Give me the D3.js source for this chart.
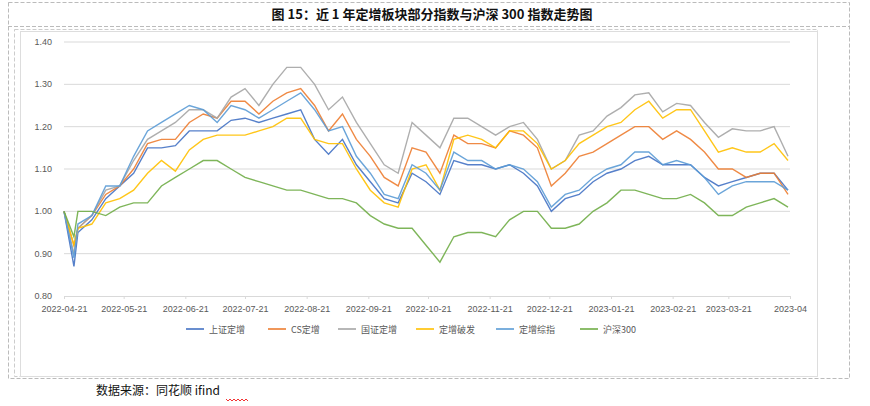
<!DOCTYPE html>
<html><head><meta charset="utf-8">
<script src="https://cdn.jsdelivr.net/npm/d3@7"></script>
<style>body{margin:0;background:#fff;font-family:"Noto Sans CJK SC","Noto Sans",sans-serif;}</style>
</head><body><svg id="c" width="870" height="406"></svg>
<script>
const dates = ["2022-04-21","2022-04-26","2022-04-28","2022-05-05","2022-05-12","2022-05-19","2022-05-26","2022-06-02","2022-06-09","2022-06-16","2022-06-23","2022-06-30","2022-07-07","2022-07-14","2022-07-21","2022-07-28","2022-08-04","2022-08-11","2022-08-18","2022-08-25","2022-09-01","2022-09-08","2022-09-15","2022-09-22","2022-09-29","2022-10-06","2022-10-13","2022-10-20","2022-10-27","2022-11-03","2022-11-10","2022-11-17","2022-11-24","2022-12-01","2022-12-08","2022-12-15","2022-12-22","2022-12-29","2023-01-05","2023-01-12","2023-01-19","2023-01-26","2023-02-02","2023-02-09","2023-02-16","2023-02-23","2023-03-02","2023-03-09","2023-03-16","2023-03-23","2023-03-30","2023-04-06","2023-04-13","2023-04-20"];
const shangzheng = [1.00,0.87,0.95,0.98,1.03,1.06,1.09,1.15,1.15,1.155,1.19,1.19,1.19,1.215,1.22,1.21,1.22,1.23,1.24,1.17,1.135,1.17,1.11,1.07,1.03,1.02,1.09,1.07,1.04,1.12,1.11,1.11,1.10,1.11,1.09,1.06,1.00,1.03,1.04,1.07,1.09,1.10,1.12,1.13,1.11,1.11,1.11,1.08,1.06,1.07,1.08,1.09,1.09,1.05];
const csIdx = [1.00,0.92,0.96,0.99,1.04,1.06,1.10,1.16,1.17,1.17,1.21,1.23,1.22,1.26,1.26,1.23,1.26,1.28,1.29,1.25,1.19,1.23,1.17,1.13,1.08,1.06,1.15,1.14,1.09,1.18,1.16,1.16,1.15,1.19,1.18,1.15,1.06,1.09,1.13,1.14,1.16,1.18,1.20,1.20,1.17,1.19,1.17,1.14,1.10,1.10,1.08,1.09,1.09,1.04];
const guozheng = [1.00,0.90,0.96,0.99,1.05,1.06,1.12,1.17,1.19,1.21,1.24,1.24,1.22,1.27,1.29,1.25,1.30,1.34,1.34,1.30,1.24,1.27,1.21,1.16,1.11,1.09,1.21,1.18,1.15,1.22,1.22,1.20,1.18,1.20,1.21,1.17,1.10,1.12,1.18,1.19,1.225,1.245,1.275,1.28,1.235,1.255,1.25,1.21,1.175,1.195,1.19,1.19,1.20,1.13];
const pofa = [1.00,0.92,0.96,0.97,1.02,1.03,1.05,1.09,1.12,1.095,1.145,1.17,1.18,1.18,1.18,1.19,1.20,1.22,1.22,1.17,1.16,1.16,1.10,1.05,1.02,1.01,1.10,1.11,1.05,1.17,1.18,1.17,1.15,1.19,1.19,1.16,1.10,1.12,1.16,1.18,1.20,1.21,1.24,1.26,1.22,1.24,1.24,1.19,1.14,1.15,1.14,1.14,1.16,1.12];
const zongzhi = [1.00,0.89,0.97,0.99,1.06,1.06,1.13,1.19,1.21,1.23,1.25,1.24,1.21,1.25,1.24,1.22,1.24,1.26,1.28,1.24,1.19,1.20,1.13,1.09,1.04,1.03,1.11,1.09,1.05,1.14,1.12,1.12,1.10,1.11,1.10,1.07,1.01,1.04,1.05,1.08,1.10,1.11,1.14,1.14,1.11,1.12,1.11,1.08,1.04,1.06,1.07,1.07,1.07,1.05];
const hs300 = [1.00,0.94,1.00,1.00,0.99,1.01,1.02,1.02,1.06,1.08,1.10,1.12,1.12,1.10,1.08,1.07,1.06,1.05,1.05,1.04,1.03,1.03,1.02,0.99,0.97,0.96,0.96,0.92,0.88,0.94,0.95,0.95,0.94,0.98,1.00,1.00,0.96,0.96,0.97,1.00,1.02,1.05,1.05,1.04,1.03,1.03,1.04,1.02,0.99,0.99,1.01,1.02,1.03,1.01];
const seriesNames = ["上证定增","CS定增","国证定增","定增破发","定增综指","沪深300"];
const seriesVals = [shangzheng, csIdx, guozheng, pofa, zongzhi, hs300];
const colors = ["#4472C4","#ED7D31","#A5A5A5","#FFC000","#5B9BD5","#70AD47"];
const yTicks = [0.80,0.90,1.00,1.10,1.20,1.30,1.40];

const svg = d3.select("#c");
const parse = d3.timeParse("%Y-%m-%d");
const dd = dates.map(parse);

// frames
const dash = "4,2";
svg.append("rect").attr("x",8.5).attr("y",2.5).attr("width",841).attr("height",376).attr("fill","none").attr("stroke","#bbb").attr("stroke-dasharray",dash);
svg.append("line").attr("x1",8).attr("x2",850).attr("y1",26.5).attr("y2",26.5).attr("stroke","#bbb").attr("stroke-dasharray",dash);
svg.append("rect").attr("x",14.5).attr("y",29.5).attr("width",803).attr("height",347).attr("fill","none").attr("stroke","#ccc").attr("stroke-dasharray",dash);
svg.append("rect").attr("x",20.5).attr("y",31.5).attr("width",797).attr("height",345).attr("fill","none").attr("stroke","#ddd");

svg.append("text").attr("x",432).attr("y",19).attr("text-anchor","middle")
  .attr("font-size",13).attr("font-weight","bold").attr("fill","#111").text("图 15：近 1 年定增板块部分指数与沪深 300 指数走势图");

const x = d3.scaleTime().domain([parse("2022-04-21"), parse("2023-04-21")]).range([64,790]);
const y = d3.scaleLinear().domain([0.8,1.4]).range([296,42]);

const g = svg.append("g");
g.selectAll(".grid").data(yTicks.slice(1)).join("line")
  .attr("x1",64).attr("x2",790).attr("y1",d=>y(d)).attr("y2",d=>y(d))
  .attr("stroke","#d9d9d9");
g.selectAll(".yl").data(yTicks).join("text")
  .attr("x",52).attr("y",d=>y(d)+3).attr("text-anchor","end")
  .attr("font-size",9).attr("fill","#595959").attr("font-family","Liberation Sans").text(d=>d.toFixed(2));

const xAxis = d3.axisBottom(x)
  .tickValues(d3.range(13).map(i=>d3.timeMonth.offset(parse("2022-04-21"),i)))
  .tickFormat((d,i)=> i===12 ? "2023-04" : d3.timeFormat("%Y-%m-%d")(d))
  .tickSize(3);
const ax = svg.append("g").attr("transform","translate(0,296)").call(xAxis);
ax.select(".domain").attr("stroke","#d9d9d9");
ax.selectAll(".tick line").attr("stroke","#d9d9d9");
ax.selectAll("text").attr("font-size",9).attr("fill","#595959").attr("font-family","Liberation Sans").attr("dy","1.1em");

const line = d3.line().x((d,i)=>x(dd[i])).y(d=>y(d));
seriesVals.forEach((v,k)=>{
  g.append("path").datum(v).attr("d",line).attr("fill","none")
    .attr("stroke",colors[k]).attr("stroke-width",1.4).attr("opacity",0.9);
});

// legend
const lx = [186,268,338,416,496,580];
const lg = svg.append("g").attr("transform","translate(0,329)");
seriesNames.forEach((n,k)=>{
  lg.append("line").attr("x1",lx[k]).attr("x2",lx[k]+18).attr("stroke",colors[k]).attr("stroke-width",1.6);
  lg.append("text").attr("x",lx[k]+23).attr("y",3.5).attr("font-size",9).attr("fill","#595959").text(n);
});

svg.append("text").attr("x",96).attr("y",395).attr("font-size",12).attr("fill","#111").text("数据来源：同花顺 ifind");
svg.append("path").attr("d","M 226 399 l 2 2 l 2 -2 l 2 2 l 2 -2 l 2 2 l 2 -2 l 2 2 l 2 -2 l 2 2 l 2 -2 l 2 2")
  .attr("fill","none").attr("stroke","#e00").attr("stroke-width",0.8);
</script></body></html>
